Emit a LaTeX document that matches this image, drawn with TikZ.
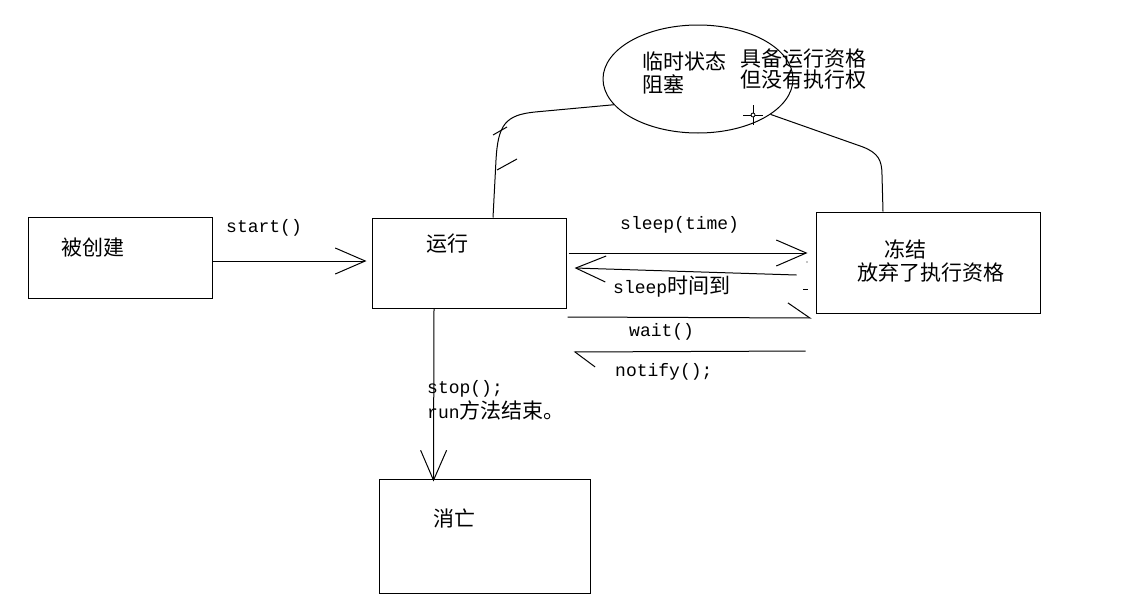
\documentclass[tikz,border=0pt]{standalone}
\usepackage{fontspec}
\setmonofont{Liberation Mono}
\newfontfamily\cjk{Noto Sans CJK SC}
\usetikzlibrary{arrows.meta,shapes.geometric,calc}
\newcommand{\zh}[1]{{\cjk\fontsize{21}{24}\selectfont #1}}
\newcommand{\mn}[1]{{\ttfamily\fontsize{18}{21}\selectfont #1}}
\begin{document}
\begin{tikzpicture}[x=1pt,y=-1pt,
  ln/.style={line width=1pt},
  box/.style={draw, line width=1pt, rectangle, inner sep=0pt},
  lbl/.style={anchor=west, inner sep=0pt, font=\ttfamily\fontsize{18}{21}\selectfont},
  vee/.style={ln, -{Straight Barb[length=30pt,width=26pt,line width=1pt]}},
  harp/.style={ln, -{Straight Barb[length=#1,width=30pt,harpoon,line width=1pt]}}
]
\useasboundingbox (0,0) rectangle (1126,613);
\fill[white] (0,0) rectangle (1126,613);

% boxes
\node[box, minimum width=184pt, minimum height=81pt] (cb) at (120,257.5) {};
\node[box, minimum width=194pt, minimum height=90pt] (yx) at (469,263) {};
\node[box, minimum width=224pt, minimum height=101pt] (dj) at (928,262.5) {};
\node[box, minimum width=211pt, minimum height=114pt] (xw) at (484.5,536) {};
\node[draw, ellipse, line width=1pt, inner sep=0pt, minimum width=190pt, minimum height=108pt] (ell) at (698,79) {};

% box texts
\node[lbl] (tcb) at (61,248) {\zh{被创建}};
\node[lbl] (tyx) at (426,244) {\zh{运行}};
\node[lbl] (tdj1) at (884,249) {\zh{冻结}};
\node[lbl] (tdj2) at (857,272) {\zh{放弃了执行资格}};
\node[lbl] (txw) at (433,519) {\zh{消亡}};
\node[lbl] (te1) at (642,61) {\zh{临时状态}};
\node[lbl] (te2) at (642,84) {\zh{阻塞}};
\node[lbl] (te3) at (740,59) {\zh{具备运行资格}};
\node[lbl] (te4) at (740,80) {\zh{但没有执行权}};

% connector labels
\node[lbl] (lstart) at (226,228) {start()};
\node[lbl] (lsleep) at (620,225) {sleep(time)};
\node[lbl] (lwake) at (613,287) {sleep\zh{时间到}};
\node[lbl] (lwait) at (629,332) {wait()};
\node[lbl] (lnotify) at (615,372) {notify();};
\node[lbl] (lstop1) at (427,389) {stop();};
\node[lbl] (lstop2) at (427,410) {run\zh{方法结束。}};

% connectors
\draw[vee] (cb.east |- 0,261) -- ([xshift=-5pt]yx.west |- 0,261);
\draw[vee] ([xshift=2pt]yx.east |- 0,253) -- ([xshift=-8pt]dj.west |- 0,253);
\draw[vee] ([xshift=-19pt]dj.west |- 0,275) -- ([xshift=8pt]yx.east |- 0,268);
\draw[harp=22pt] ([xshift=1pt]yx.east |- 0,317) -- ([xshift=-4pt]dj.west |- 0,318);
\draw[harp=20pt] ([xshift=-10pt]dj.west |- 0,351) -- ([xshift=7pt]yx.east |- 0,352);
\draw[vee] ([xshift=-35pt]yx.south) -- ([xshift=-51pt,yshift=-3pt]xw.north);

% curves to the ellipse
\draw[ln] ([xshift=24pt]yx.north) -- (496,160) .. controls (498,125) and (505,115) .. (535,112) -- (ell.197);
\draw[ln] (ell.334) -- (863,147) .. controls (878,153) and (882,160) .. (882,175) -- ([xshift=-45pt]dj.north);

% stray marks
\draw[ln] (493,135) -- (507,127);
\draw[ln] (497,170) -- (517,159);
\draw[ln] (803,289) -- (808,289);
\fill (807,262) circle (0.7pt);
% cursor
\draw[line width=0.8pt] (743,115) -- (763,115) (753,105) -- (753,125);
\draw[line width=0.8pt, fill=white] (753,115) circle (2pt);
\end{tikzpicture}
\end{document}
